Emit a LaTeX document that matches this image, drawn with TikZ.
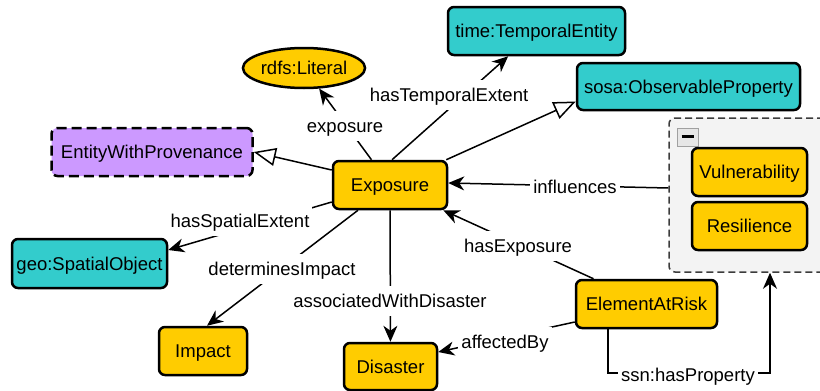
\documentclass[tikz,border=0pt]{standalone}
\usepackage{fontspec}
\setmainfont{Liberation Sans}
\usetikzlibrary{shapes.geometric,arrows.meta}
\definecolor{cyel}{HTML}{FFCC00}
\definecolor{ccyan}{HTML}{33CCCC}
\definecolor{cpurp}{HTML}{CC99FF}
\definecolor{cgrpfill}{HTML}{F3F3F3}
\definecolor{cgrpline}{HTML}{3C3C3C}
\definecolor{cbtnfill}{HTML}{E6E6E6}
\definecolor{cbtnline}{HTML}{A0A0A0}
\begin{document}
\begin{tikzpicture}[x=1pt,y=-1pt,
  txt/.style={font=\fontsize{18.5}{22}\selectfont},
  cls/.style={txt, draw=black, line width=2.5pt, rounded corners=6pt, inner sep=0pt,
              minimum height=48pt, text height=16pt, text depth=3pt},
  yel/.style={cls, fill=cyel},
  cya/.style={cls, fill=ccyan},
  lbl/.style={txt, fill=white, inner xsep=3pt, inner ysep=5pt, text height=16pt, text depth=4pt},
  edge/.style={line width=1.5pt, draw=black},
  arr/.style={edge, -{Stealth[length=16pt,width=14pt,inset=5pt]}},
  inh/.style={edge, -{Triangle[length=22pt,width=18pt,fill=white]}},
]
\clip (0,0) rectangle (820,391);

% group box
\node[draw=cgrpline, fill=cgrpfill, dashed, dash pattern=on 7pt off 4pt, line width=1.5pt,
      rounded corners=6pt, minimum width=161pt, minimum height=154pt, inner sep=0pt]
      (grp) at (749.5,195) {};
\node[draw=cbtnline, fill=cbtnfill, line width=0.8pt, minimum width=21pt, minimum height=18pt,
      inner sep=0pt] (btn) at (687.5,137) {};
\draw[line width=3pt] ([xshift=-6pt,yshift=0.5pt]btn.center) -- ([xshift=6pt,yshift=0.5pt]btn.center);
\node[yel, minimum width=115pt] (vul) at (749.5,172) {Vulnerability};
\node[yel, minimum width=115pt] (res) at (749.5,226) {Resilience};

% class nodes
\node[cls, fill=cpurp, dash pattern=on 10pt off 5pt, minimum width=201pt] (ewp) at (152,152) {EntityWithProvenance};
\node[ellipse, draw=black, line width=2.5pt, fill=cyel, txt, minimum width=114pt, minimum height=40pt,
      inner sep=0pt] (lit) at (304,68) {rdfs:Literal};
\node[yel, minimum width=114pt] (expo) at (390,185) {Exposure};
\node[cya, minimum width=177pt] (time) at (536.5,31) {time:TemporalEntity};
\node[cya, minimum width=223pt, minimum height=47pt] (sosa) at (688.5,86.5) {sosa:ObservableProperty};
\node[cya, minimum width=155pt, minimum height=49pt] (geo) at (89.5,263.5) {geo:SpatialObject};
\node[yel, minimum width=88pt] (imp) at (203,351) {Impact};
\node[yel, minimum width=93pt, minimum height=47pt] (dis) at (390.5,366.5) {Disaster};
\node[yel, minimum width=141pt] (ear) at (646.5,304) {ElementAtRisk};

% inheritance edges
\draw[inh] ([yshift=15pt]expo.west) -- (ewp.east);
\draw[inh] ([xshift=-2pt]expo.north east) -- ([yshift=-15pt]sosa.west);

% property edges
\draw[arr] (expo) -- (lit) node[lbl] (lexp) at (345,126) {exposure};
\draw[arr] ([xshift=2pt]expo.north) -- (time) node[lbl] (lte) at (449,95) {hasTemporalExtent};
\draw[arr] ([yshift=7pt]grp.west) -- ([yshift=2pt]expo.east) node[lbl] (linf) at (575,187) {influences};
\draw[arr] ([yshift=-17pt]expo.west) -- ([yshift=13.5pt]geo.east) node[lbl] (lse) at (240,221) {hasSpatialExtent};
\draw[arr] ([xshift=-32pt]expo.south) -- ([xshift=4pt]imp.north) node[lbl] (ldi) at (282,269) {determinesImpact};
\draw[arr] (expo) -- (dis) node[lbl] (lawd) at (390,301) {associatedWithDisaster};
\draw[arr] ([xshift=-53pt]ear.north) -- ([xshift=-5pt]expo.south east) node[lbl] (lhe) at (518,246) {hasExposure};
\draw[arr] ([yshift=-18pt]ear.west) -- ([yshift=14.5pt]dis.east) node[lbl] (laff) at (505,342) {affectedBy};

\coordinate (b1) at (608,373);
\coordinate (b2) at (770,373);
\draw[arr] ([xshift=-38.5pt]ear.south) -- (b1) -- (b2) -- (grp.south -| b2)
      node[lbl] (lsp) at (688,375) {ssn:hasProperty};
\end{tikzpicture}
\end{document}
